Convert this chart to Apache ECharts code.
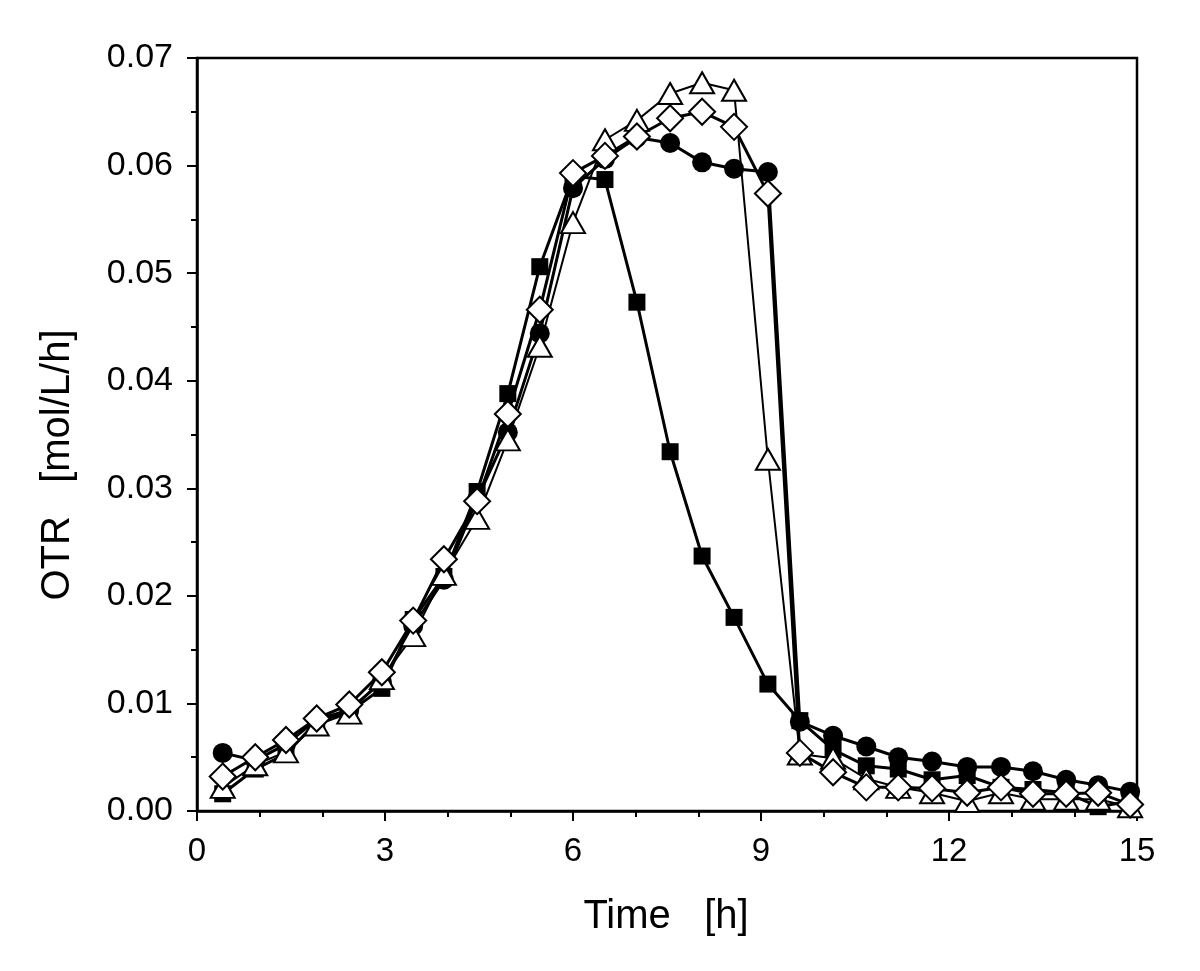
<!DOCTYPE html>
<html>
<head>
<meta charset="utf-8">
<script src="https://cdn.jsdelivr.net/npm/echarts@6/dist/echarts.min.js"></script>
<style>
html,body{margin:0;padding:0;background:#fff;}
#chart{width:1200px;height:971px;}
</style>
</head>
<body>
<div id="chart"></div>
<script>
const time = [0.41,0.93,1.42,1.91,2.43,2.95,3.45,3.94,4.47,4.96,5.47,6.0,6.51,7.02,7.55,8.06,8.57,9.11,9.62,10.15,10.68,11.19,11.73,12.29,12.83,13.34,13.87,14.38,14.89];
const squareOTR = [0.0016,0.0039,0.0053,0.0083,0.0092,0.0114,0.0178,0.0218,0.0297,0.0388,0.0506,0.0590,0.0587,0.0473,0.0334,0.0237,0.0180,0.0118,0.0084,0.0057,0.0042,0.0039,0.0029,0.0033,0.0022,0.0020,0.0017,0.0004,0.0009];
const circleOTR = [0.0054,0.0047,0.0062,0.0085,0.0094,0.0120,0.0172,0.0215,0.0290,0.0352,0.0444,0.0579,0.0606,0.0626,0.0621,0.0603,0.0597,0.0594,0.0083,0.0070,0.0060,0.0050,0.0046,0.0041,0.0041,0.0037,0.0029,0.0024,0.0018];
const triangleOTR = [0.0022,0.0043,0.0055,0.0080,0.0091,0.0123,0.0163,0.0220,0.0272,0.0345,0.0432,0.0547,0.0624,0.0642,0.0667,0.0677,0.0670,0.0327,0.0053,0.0049,0.0030,0.0022,0.0017,0.0009,0.0017,0.0011,0.0011,0.0011,0.0004];
const diamondOTR = [0.0032,0.0050,0.0066,0.0086,0.0099,0.0129,0.0177,0.0234,0.0288,0.0369,0.0466,0.0593,0.0609,0.0627,0.0644,0.0650,0.0636,0.0574,0.0054,0.0036,0.0022,0.0022,0.0021,0.0017,0.0022,0.0016,0.0016,0.0017,0.0006];
const xTicks = [0,3,6,9,12,15];
const yTicks = [0.00,0.01,0.02,0.03,0.04,0.05,0.06,0.07];

const pair = arr => time.map((t,i)=>[t,arr[i]]);
const FONT = "'Liberation Sans', Arial, sans-serif";

function makeSeries(name, data, symbol, size, filled, lw){
  return {
    name, type:'line', data: pair(data), symbol, symbolSize:size,
    showAllSymbol:true,
    lineStyle:{color:'#000', width:lw},
    itemStyle: filled ? {color:'#000', borderColor:'#000', borderWidth:0}
                      : {color:'#fff', borderColor:'#000', borderWidth:2},
    emphasis:{disabled:true},
    animation:false
  };
}

const chart = echarts.init(document.getElementById('chart'));
chart.setOption({
  backgroundColor:'#fff',
  animation:false,
  grid:{left:197,right:63,top:58,bottom:160,show:true,borderColor:'#000',borderWidth:2.5,backgroundColor:'transparent'},
  xAxis:{
    type:'value', min:xTicks[0], max:xTicks[xTicks.length-1], interval:3,
    axisLine:{show:true,onZero:false,lineStyle:{color:'#000',width:2.5}},
    axisTick:{show:true,inside:false,length:10,lineStyle:{color:'#000',width:2}},
    minorTick:{show:true,splitNumber:3,length:6,lineStyle:{color:'#000',width:2}},
    splitLine:{show:false},
    axisLabel:{color:'#000',fontSize:33,fontFamily:FONT,margin:24}
  },
  yAxis:{
    type:'value', min:yTicks[0], max:yTicks[yTicks.length-1], interval:0.01,
    axisLine:{show:true,onZero:false,lineStyle:{color:'#000',width:2.5}},
    axisTick:{show:true,inside:false,length:10,lineStyle:{color:'#000',width:2}},
    minorTick:{show:true,splitNumber:2,length:6,lineStyle:{color:'#000',width:2}},
    splitLine:{show:false},
    axisLabel:{color:'#000',fontSize:34,fontFamily:FONT,margin:24,formatter:v=>v.toFixed(2)}
  },
  graphic:[
    {type:'text',x:666,y:917,style:{text:'Time   [h]',fontSize:40,fontFamily:FONT,fill:'#000',x:0,y:0,align:'center',verticalAlign:'middle'}},
    {type:'text',rotation:Math.PI/2,x:58,y:465,style:{text:'OTR   [mol/L/h]',fontSize:40,fontFamily:FONT,fill:'#000',x:0,y:0,align:'center',verticalAlign:'middle'}}
  ],
  series:[
    makeSeries('square', squareOTR, 'rect', 17, true, 3),
    makeSeries('circle', circleOTR, 'circle', 20, true, 3),
    makeSeries('triangle', triangleOTR, 'triangle', [24,21], false, 2),
    makeSeries('diamond', diamondOTR, 'diamond', 26, false, 3)
  ]
});
</script>
</body>
</html>
